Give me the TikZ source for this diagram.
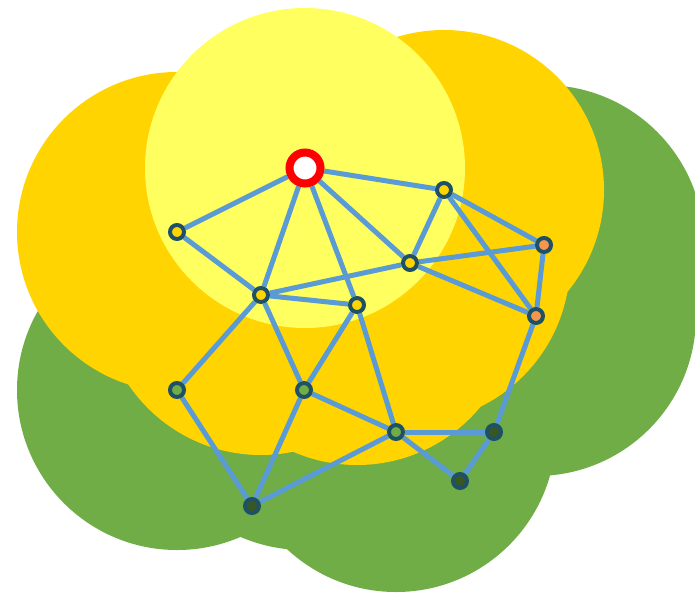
\documentclass[tikz,border=0pt]{standalone}
\usetikzlibrary{backgrounds}
\definecolor{zonegreen}{HTML}{70AD47}
\definecolor{zonegold}{HTML}{FFD400}
\definecolor{zonelight}{HTML}{FFFF5F}
\definecolor{linkblue}{HTML}{5B9BD5}
\definecolor{rimteal}{HTML}{1F5166}
\definecolor{hopfour}{HTML}{385723}
\definecolor{hoptwo}{HTML}{F4964E}
\begin{document}
\begin{tikzpicture}[x=1pt,y=-1pt,
    station/.style={circle,draw=rimteal,line width=4pt,inner sep=0pt,minimum size=14pt},
    hopone/.style={station,fill=zonegold},
    hoptwo/.style={station,fill=hoptwo},
    hopthree/.style={station,fill=zonegreen},
    hopfour/.style={station,fill=hopfour},
    source/.style={circle,draw=red,line width=8pt,fill=white,inner sep=0pt,minimum size=31pt},
    link/.style={draw=linkblue,line width=5pt},
    coverzone/.style={radius=160pt}]
\useasboundingbox (0,0) rectangle (695,595);
\clip (0,0) rectangle (695,595);
\node[source] (src) at (305,168) {};
\node[hopone] (a1) at (177,232) {};
\node[hopone] (a2) at (444,190) {};
\node[hopone] (a3) at (261,295) {};
\node[hopone] (a4) at (357,305) {};
\node[hopone] (a5) at (410,263) {};
\node[hoptwo] (b1) at (544,245) {};
\node[hoptwo] (b2) at (536,316) {};
\node[hopthree] (c1) at (177,390) {};
\node[hopthree] (c2) at (304,390) {};
\node[hopthree] (c3) at (396,432) {};
\node[hopfour] (d1) at (494,432) {};
\node[hopfour] (d2) at (460,481) {};
\node[hopfour] (d3) at (252,506) {};
\begin{scope}[on background layer]
\foreach \n in {b1,b2,c1,c2,c3} \fill[zonegreen] (\n.center) circle[coverzone];
\foreach \n in {a1,a2,a3,a4,a5} \fill[zonegold] (\n.center) circle[coverzone];
\fill[zonelight] (src.center) circle[coverzone];
\foreach \u/\v in {src/a1,src/a2,src/a3,src/a4,src/a5,a1/a3,a3/a5,a3/a4,a2/a5,a2/b1,a2/b2,a5/b1,a5/b2,b1/b2,b2/d1,
    a3/c1,a3/c2,a4/c2,a4/c3,c2/c3,c2/d3,c1/d3,d3/c3,c3/d1,c3/d2,d1/d2}
    \path[link] (\u) -- (\v);
\end{scope}
\end{tikzpicture}
\end{document}
